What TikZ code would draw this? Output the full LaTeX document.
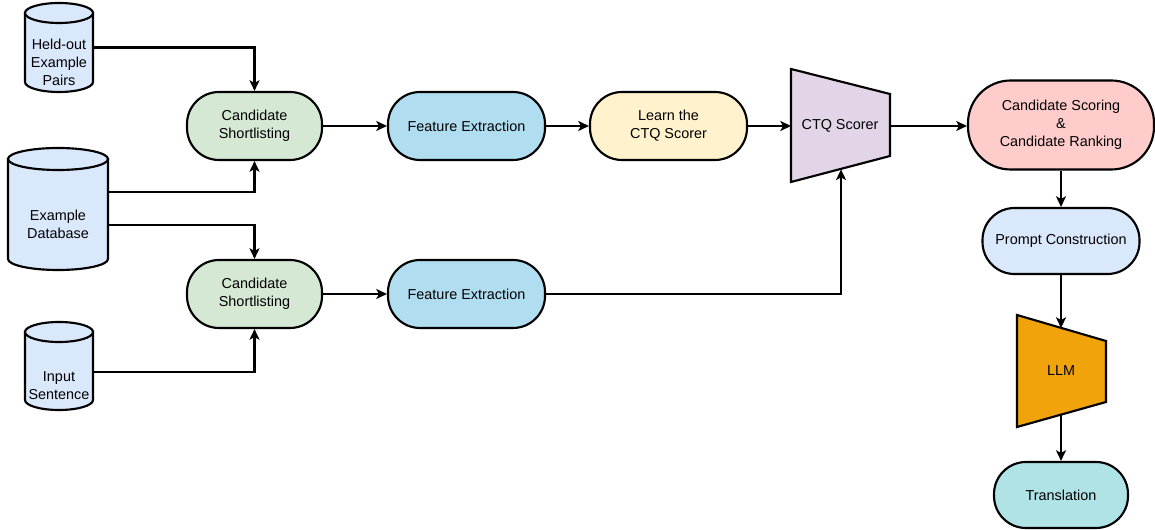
\documentclass[tikz,border=0pt]{standalone}
\usepackage{fontspec}
\setmainfont{Liberation Sans}
\usetikzlibrary{arrows.meta,calc}
\definecolor{cylfill}{HTML}{DAE8FC}
\definecolor{greenfill}{HTML}{D5E8D4}
\definecolor{bluefill}{HTML}{B1DDF0}
\definecolor{yellowfill}{HTML}{FFF2CC}
\definecolor{purplefill}{HTML}{E1D5E7}
\definecolor{redfill}{HTML}{FFCCCC}
\definecolor{orangefill}{HTML}{F0A30A}
\definecolor{tealfill}{HTML}{B0E3E6}
\tikzset{
  base/.style={font=\fontsize{10.8}{13.5}\selectfont, text=black, align=center},
  pill/.style={base, draw, line width=1.6pt, rounded corners=24pt, inner sep=0pt},
  cylbox/.style={inner sep=0pt},
  cyl/.style={draw, line width=1.6pt, fill=cylfill},
  trap/.style={draw, line width=1.6pt, line join=miter},
  conn/.style={line width=1.6pt, -{Stealth[length=8pt,width=7.5pt,inset=2pt]}},
}
\newcommand\mycyl[5]{% cx, ytop, ybot, rx, ry
  \pgfmathsetmacro\cylL{#1-#4}\pgfmathsetmacro\cylR{#1+#4}%
  \pgfmathsetmacro\cylT{#2+#5}\pgfmathsetmacro\cylB{#3-#5}%
  \pgfmathsetmacro\cylKx{0.5523*#4}\pgfmathsetmacro\cylKy{0.5523*#5}%
  \draw[cyl] (\cylL,\cylT) -- (\cylL,\cylB) .. controls (\cylL,\cylB+\cylKy) and (#1-\cylKx,#3) .. (#1,#3) .. controls (#1+\cylKx,#3) and (\cylR,\cylB+\cylKy) .. (\cylR,\cylB) -- (\cylR,\cylT) -- cycle;
  \draw[cyl] (#1,\cylT) ellipse [x radius=#4, y radius=#5];
}
\begin{document}
\begin{tikzpicture}[x=0.75pt,y=-0.75pt]
\useasboundingbox (0,0) rectangle (1155,530);
% cylinders
\node[cylbox, minimum width=51pt, minimum height=66.75pt] (held) at (59,47.5) {};
\mycyl{59}{3}{92}{34}{10}
\node[base] (heldt) at (59,62) {Held-out\\Example\\Pairs};
\node[cylbox, minimum width=75pt, minimum height=91.5pt] (dbase) at (58,209) {};
\mycyl{58}{148}{270}{50}{11}
\node[base] (dbaset) at (58,224) {Example\\Database};
\node[cylbox, minimum width=51pt, minimum height=66pt] (inp) at (59,366) {};
\mycyl{59}{322}{410}{34}{10}
\node[base] (inpt) at (59,386) {Input\\Sentence};
% pills
\node[pill, fill=greenfill, minimum width=101.25pt, minimum height=51pt] (cs1) at (254.5,126) {Candidate\\Shortlisting};
\node[pill, fill=bluefill, minimum width=117.75pt, minimum height=51pt] (fe1) at (466.5,126) {Feature Extraction};
\node[pill, fill=yellowfill, minimum width=117.75pt, minimum height=51pt] (learn) at (668.5,126) {Learn the\\CTQ Scorer};
\node[pill, fill=greenfill, minimum width=101.25pt, minimum height=51pt] (cs2) at (254.5,294) {Candidate\\Shortlisting};
\node[pill, fill=bluefill, minimum width=117.75pt, minimum height=51pt] (fe2) at (466.5,294) {Feature Extraction};
\node[pill, fill=redfill, rounded corners=32pt, minimum width=139.5pt, minimum height=66.75pt] (score) at (1061,125) {Candidate Scoring\\\&\\Candidate Ranking};
\node[pill, fill=cylfill, minimum width=117.75pt, minimum height=49.5pt] (prompt) at (1061,241) {Prompt Construction};
\node[pill, fill=tealfill, minimum width=100.5pt, minimum height=49.5pt] (trans) at (1061,495) {Translation};
% trapezoids
\draw[trap, fill=purplefill] (791,69) -- (890,94) -- (890,156) -- (791,182) -- cycle;
\node[base] (ctq) at (840,126) {CTQ Scorer};
\coordinate (ctqL) at (791,126);
\coordinate (ctqR) at (890,126);
\coordinate (ctqB) at (841,169.4);
\draw[trap, fill=orangefill] (1017,315) -- (1106,341) -- (1106,402) -- (1017,427) -- cycle;
\node[base] (llm) at (1061,371) {LLM};
\coordinate (llmT) at (1061,328);
\coordinate (llmB) at (1061,414.6);
% connectors
\draw[conn] (held.east) -| (cs1.north);
\draw[conn] ($(dbase.east)+(0,-17)$) -| (cs1.south);
\draw[conn] ($(dbase.east)+(0,16)$) -| (cs2.north);
\draw[conn] ($(inp.east)+(0,6)$) -| (cs2.south);
\draw[conn] (cs1.east) -- (fe1.west);
\draw[conn] (fe1.east) -- (learn.west);
\draw[conn] (learn.east) -- (ctqL);
\draw[conn] (ctqR) -- (score.west |- ctqR);
\draw[conn] (cs2.east) -- (fe2.west);
\draw[conn] (fe2.east) -| (ctqB);
\draw[conn] (score.south) -- (prompt.north);
\draw[conn] (prompt.south) -- (llmT);
\draw[conn] (llmB) -- (trans.north);
\end{tikzpicture}
\end{document}
